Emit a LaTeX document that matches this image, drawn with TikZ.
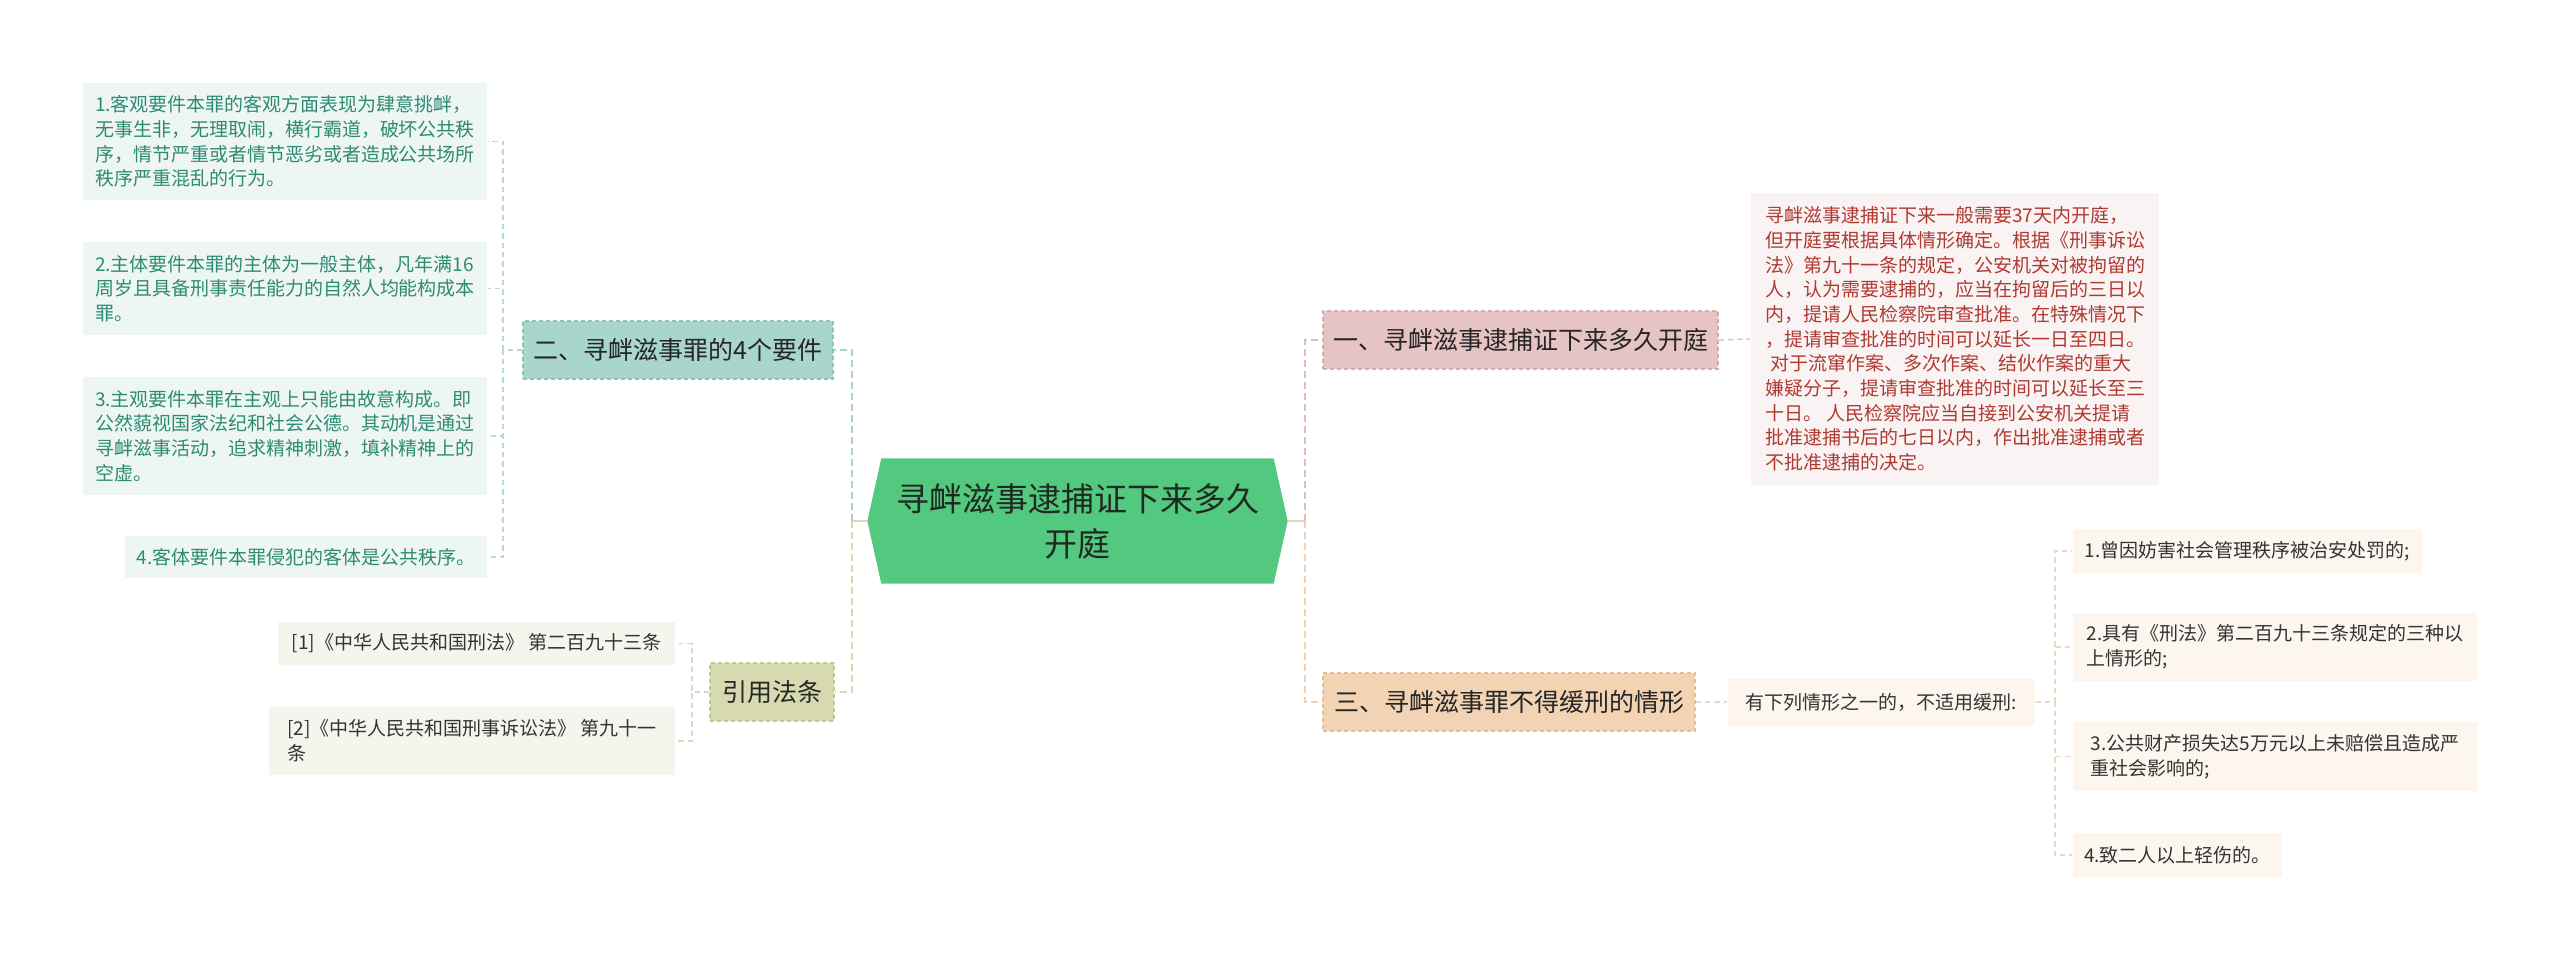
\documentclass[tikz,border=0pt]{standalone}
\usepackage{xcolor}
\usepackage{fontspec}
\setmainfont{Noto Sans CJK SC}
\usetikzlibrary{backgrounds}

\definecolor{rootgreen}{HTML}{53C97F}
\definecolor{rootink}{HTML}{1F2A22}
\definecolor{pinkbox}{HTML}{E6C4C4}
\definecolor{pinkedge}{HTML}{D6ABAB}
\definecolor{peachbox}{HTML}{F2D4B4}
\definecolor{peachedge}{HTML}{E3BF99}
\definecolor{tealbox}{HTML}{A8D5CC}
\definecolor{tealedge}{HTML}{8CC2B7}
\definecolor{olivebox}{HTML}{D6DAAE}
\definecolor{oliveedge}{HTML}{C2C692}
\definecolor{tealleaf}{HTML}{EEF6F4}
\definecolor{tealink}{HTML}{2E8B72}
\definecolor{redleaf}{HTML}{FAF3F3}
\definecolor{redink}{HTML}{AE3A32}
\definecolor{peachleaf}{HTML}{FCF6EF}
\definecolor{oliveleaf}{HTML}{F5F5ED}
\definecolor{leafink}{HTML}{333333}
\definecolor{linkpink}{HTML}{DDBDBD}
\definecolor{linkpeach}{HTML}{F0D2B4}
\definecolor{linkteal}{HTML}{A9D2CA}
\definecolor{linkolive}{HTML}{D7D9AF}
\definecolor{twigpink}{HTML}{D8C0C0}
\definecolor{twigpeach}{HTML}{E8D9C6}
\definecolor{twigteal}{HTML}{B8DAD3}
\definecolor{twigolive}{HTML}{D8D8C8}

\begin{document}
\begin{tikzpicture}[x=0.3pt,y=-0.3pt]
        \tikzstyle{every node}+=[inner sep=0pt]
        \tikzstyle{rootnode}=[minimum width=125.7pt, minimum height=37.2pt, align=center, text=rootink, font=\fontsize{9.9pt}{13.5pt}\selectfont]
        \tikzstyle{branchbox}=[dash pattern=on 1.2pt off 0.9pt, line width=0.35pt, minimum height=17.4pt, text=black!85, font=\fontsize{7.5pt}{9pt}\selectfont]
        \tikzstyle{leafbox}=[align=left, font=\fontsize{5.7pt}{7.4pt}\selectfont]
        \tikzstyle{link}=[line width=0.6pt, dash pattern=on 2pt off 1.3pt]
        \tikzstyle{twig}=[line width=0.4pt, dash pattern=on 1.6pt off 1.2pt]
        \useasboundingbox (0,0) rectangle (2560,959);

        % root
        \node[rootnode] (root) at (1077.5,521) {寻衅滋事逮捕证下来多久\\开庭};
        \begin{scope}[on background layer]
        \fill[rootgreen] (root.west) -- ([xshift=4.2pt]root.north west) -- ([xshift=-4.2pt]root.north east) -- (root.east) -- ([xshift=-4.2pt]root.south east) -- ([xshift=4.2pt]root.south west) -- cycle;
        \end{scope}

        % branches
        \node[branchbox, fill=pinkbox, draw=pinkedge, minimum width=118.5pt] (fast) at (1520.5,340) {一、寻衅滋事逮捕证下来多久开庭};
        \node[branchbox, fill=tealbox, draw=tealedge, minimum width=93pt] (needs) at (678,350) {二、寻衅滋事罪的4个要件};
        \node[branchbox, fill=peachbox, draw=peachedge, minimum width=111.6pt] (norelief) at (1509,702) {三、寻衅滋事罪不得缓刑的情形};
        \node[branchbox, fill=olivebox, draw=oliveedge, minimum width=37.2pt] (laws) at (772,692) {引用法条};

        % leaves, left
        \node[leafbox, fill=tealleaf, text=tealink, minimum width=121.2pt, minimum height=35.1pt] (need1) at (285,141.5) {1.客观要件本罪的客观方面表现为肆意挑衅，\\无事生非，无理取闹，横行霸道，破坏公共秩\\序，情节严重或者情节恶劣或者造成公共场所\\秩序严重混乱的行为。};
        \node[leafbox, fill=tealleaf, text=tealink, minimum width=121.2pt, minimum height=27.9pt] (need2) at (285,288.5) {2.主体要件本罪的主体为一般主体，凡年满16\\周岁且具备刑事责任能力的自然人均能构成本\\罪。};
        \node[leafbox, fill=tealleaf, text=tealink, minimum width=121.2pt, minimum height=35.4pt] (need3) at (285,436) {3.主观要件本罪在主观上只能由故意构成。即\\公然藐视国家法纪和社会公德。其动机是通过\\寻衅滋事活动，追求精神刺激，填补精神上的\\空虚。};
        \node[leafbox, fill=tealleaf, text=tealink, minimum width=108.6pt, minimum height=12.6pt] (need4) at (306,557) {4.客体要件本罪侵犯的客体是公共秩序。};
        \node[leafbox, fill=oliveleaf, text=leafink, minimum width=119.1pt, minimum height=12.9pt] (law1) at (476.5,643.5) {[1]《中华人民共和国刑法》 第二百九十三条};
        \node[leafbox, fill=oliveleaf, text=leafink, minimum width=121.8pt, minimum height=20.4pt] (law2) at (472,741) {[2]《中华人民共和国刑事诉讼法》 第九十一\\条};

        % leaves, right
        \node[leafbox, fill=redleaf, text=redink, minimum width=122.4pt, minimum height=87.6pt] (answer) at (1955,339) {寻衅滋事逮捕证下来一般需要37天内开庭，\\但开庭要根据具体情形确定。根据《刑事诉讼\\法》第九十一条的规定，公安机关对被拘留的\\人，认为需要逮捕的，应当在拘留后的三日以\\内，提请人民检察院审查批准。在特殊情况下\\，提请审查批准的时间可以延长一日至四日。\\\hspace{0.3em}对于流窜作案、多次作案、结伙作案的重大\\嫌疑分子，提请审查批准的时间可以延长至三\\十日。 人民检察院应当自接到公安机关提请\\批准逮捕书后的七日以内，作出批准逮捕或者\\不批准逮捕的决定。};
        \node[leafbox, fill=peachleaf, text=leafink, minimum width=92.1pt, minimum height=14.1pt] (rule) at (1881.5,702) {有下列情形之一的，不适用缓刑:};
        \node[leafbox, fill=peachleaf, text=leafink, minimum width=104.7pt, minimum height=13.2pt] (case1) at (2247.5,551) {1.曾因妨害社会管理秩序被治安处罚的;};
        \node[leafbox, fill=peachleaf, text=leafink, minimum width=121.2pt, minimum height=20.4pt] (case2) at (2275,647) {2.具有《刑法》第二百九十三条规定的三种以\\上情形的;};
        \node[leafbox, fill=peachleaf, text=leafink, minimum width=121.2pt, minimum height=20.7pt] (case3) at (2275,756.5) {3.公共财产损失达5万元以上未赔偿且造成严\\重社会影响的;};
        \node[leafbox, fill=peachleaf, text=leafink, minimum width=62.7pt, minimum height=13.2pt] (case4) at (2177.5,855) {4.致二人以上轻伤的。};

        % connectors
        \coordinate (rj) at (1305,521);
        \coordinate (lj) at (852,521);
        \draw[linkpeach, line width=0.6pt] (root.east) -- (rj);
        \draw[link, linkpink] (rj) |- (fast.west);
        \draw[link, linkpeach] (rj) |- (norelief.west);
        \draw[linkolive, line width=0.6pt] (root.west) -- (lj);
        \draw[link, linkteal] (lj) |- (needs.east);
        \draw[link, linkolive] (lj) |- (laws.east);

        \coordinate (nj) at (503,350);
        \foreach \n in {need1,need2,need3,need4}
            \draw[twig, twigteal] (needs.west) -- (nj) |- (\n.east);
        \coordinate (wj) at (692,692);
        \foreach \n in {law1,law2}
            \draw[twig, twigolive] (laws.west) -- (wj) |- (\n.east);
        \draw[twig, twigpink] (fast.east) -- (answer.west);
        \draw[twig, twigpeach] (norelief.east) -- (rule.west);
        \coordinate (cj) at (2055,702);
        \foreach \n in {case1,case2,case3,case4}
            \draw[twig, twigpeach] (rule.east) -- (cj) |- (\n.west);
\end{tikzpicture}
\end{document}
